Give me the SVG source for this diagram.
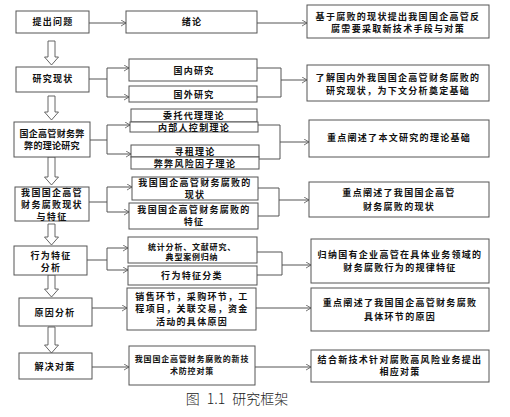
<svg xmlns="http://www.w3.org/2000/svg" width="510" height="417" viewBox="0 0 510 417">
<defs>
<marker id="ah" markerUnits="userSpaceOnUse" markerWidth="8" markerHeight="8" refX="5" refY="3" orient="auto">
<path d="M0,0 L5,3 L0,6" fill="none" stroke="#555" stroke-width="0.8"/>
</marker>
<style>
.box{fill:#fff;stroke:#555;stroke-width:1}
.t{font-family:"Noto Sans CJK SC","Noto Sans CJK TC",sans-serif;font-size:9px;font-weight:bold;fill:#111;text-anchor:middle;letter-spacing:1.3px}
.s{font-size:8px;letter-spacing:0.8px}
.c{fill:none;stroke:#555;stroke-width:1}
.a{fill:none;stroke:#555;stroke-width:1;marker-end:url(#ah)}
.h{fill:#fff;stroke:#555;stroke-width:0.9}
.cap{font-family:"Noto Sans CJK SC",sans-serif;font-size:14px;fill:#222;text-anchor:middle;font-weight:300;word-spacing:4px}
</style>
</defs>
<rect width="510" height="417" fill="#fff"/>
<g id="connectors">
<path class="h" d="M48,41 H55 V57 H58.5 L51.5,65 L44.5,57 H48 Z"/>
<path class="h" d="M48,96 H55 V112 H58.5 L51.5,120 L44.5,112 H48 Z"/>
<path class="h" d="M48,157 H55 V177 H58.5 L51.5,185 L44.5,177 H48 Z"/>
<path class="h" d="M48,224 H55 V237 H58.5 L51.5,245 L44.5,237 H48 Z"/>
<path class="h" d="M48,275 H55 V289 H58.5 L51.5,297 L44.5,289 H48 Z"/>
<path class="h" d="M48,327 H55 V345 H58.5 L51.5,353 L44.5,345 H48 Z"/>
<path class="a" d="M89,23 H126"/>
<path class="a" d="M257,23 H307"/>
<path class="c" d="M89,79 H107 M107,68 V97"/>
<path class="a" d="M107,68 H129"/>
<path class="a" d="M107,97 H129"/>
<path class="c" d="M257,68 H281 V97 H257"/>
<path class="a" d="M281,80 H307"/>
<path class="c" d="M90,140 H107 M107,125 V154"/>
<path class="a" d="M107,125 H130"/>
<path class="a" d="M107,154 H131"/>
<path class="c" d="M258,125 H280 V159 H259"/>
<path class="a" d="M280,142 H309"/>
<path class="c" d="M89,202 H107 M107,187 V212"/>
<path class="a" d="M107,187 H132"/>
<path class="a" d="M107,212 H129"/>
<path class="c" d="M258,188 H279 V216 H258"/>
<path class="a" d="M279,200 H309"/>
<path class="c" d="M87,260 H107 M107,248 V270"/>
<path class="a" d="M107,248 H128"/>
<path class="a" d="M107,270 H128"/>
<path class="c" d="M257,252 H282 V275 H257"/>
<path class="a" d="M282,265 H311"/>
<path class="a" d="M92,308 H127"/>
<path class="a" d="M256,308 H311"/>
<path class="a" d="M92,367 H129"/>
<path class="a" d="M255,367 H311"/>
</g>
<g id="n1"><rect class="box" x="16" y="11" width="73" height="22"/><text class="t" x="53" y="25">提出问题</text></g>
<g id="n2"><rect class="box" x="126" y="11" width="131" height="22"/><text class="t" x="192" y="25">绪论</text></g>
<g id="n3"><rect class="box" x="307" y="5" width="182" height="33"/><text class="t" x="398" y="20">基于腐败的现状提出我国国企高管反</text><text class="t" x="398" y="32">腐需要采取新技术手段与对策</text></g>
<g id="n4"><rect class="box" x="16" y="67" width="73" height="25"/><text class="t" x="53" y="82">研究现状</text></g>
<g id="n5"><rect class="box" x="129" y="59" width="128" height="22"/><text class="t" x="194" y="74">国内研究</text></g>
<g id="n6"><rect class="box" x="129" y="86" width="128" height="16"/><text class="t" x="194" y="98">国外研究</text></g>
<g id="n7"><rect class="box" x="307" y="65" width="182" height="36"/><text class="t" x="398" y="81">了解国内外我国国企高管财务腐败的</text><text class="t" x="398" y="94">研究现状，为下文分析奠定基础</text></g>
<g id="n8"><rect class="box" x="14" y="122" width="76" height="35"/><text class="t" x="52" y="137" style="letter-spacing:0.3px">国企高管财务弊</text><text class="t" x="52" y="149" style="letter-spacing:0.3px">弊的理论研究</text></g>
<g id="n9"><rect class="box" x="131" y="109" width="126" height="13"/><text class="t" x="194" y="119">委托代理理论</text></g>
<g id="n10"><rect class="box" x="130" y="122" width="128" height="10"/><text class="t" x="194" y="130.5">内部人控制理论</text></g>
<g id="n11"><rect class="box" x="131" y="145" width="128" height="12"/><text class="t" x="195" y="155">寻租理论</text></g>
<g id="n12"><rect class="box" x="131" y="157" width="128" height="12"/><text class="t" x="195" y="167">弊弊风险因子理论</text></g>
<g id="n13"><rect class="box" x="309" y="120" width="180" height="37"/><text class="t" x="399" y="141">重点阐述了本文研究的理论基础</text></g>
<g id="n14"><rect class="box" x="15" y="187" width="74" height="34"/><text class="t" x="52" y="196">我国国企高管</text><text class="t" x="52" y="208">财务腐败现状</text><text class="t" x="52" y="220">与特征</text></g>
<g id="n15"><rect class="box" x="132" y="177" width="126" height="23"/><text class="t" x="195" y="186">我国国企高管财务腐败的</text><text class="t" x="195" y="198">现状</text></g>
<g id="n16"><rect class="box" x="129" y="203" width="129" height="26"/><text class="t" x="194" y="213">我国国企高管财务腐败的</text><text class="t" x="194" y="225">特征</text></g>
<g id="n17"><rect class="box" x="309" y="182" width="180" height="35"/><text class="t" x="399" y="196">重点阐述了我国国企高管</text><text class="t" x="399" y="210">财务腐败的现状</text></g>
<g id="n18"><rect class="box" x="14" y="246" width="73" height="29"/><text class="t" x="51" y="258.5">行为特征</text><text class="t" x="51" y="271">分析</text></g>
<g id="n19"><rect class="box" x="128" y="237" width="129" height="26"/><text class="t s" x="192" y="250">统计分析、文献研究、</text><text class="t s" x="192" y="260">典型案例归纳</text></g>
<g id="n20"><rect class="box" x="128" y="266" width="129" height="19"/><text class="t" x="192" y="279">行为特征分类</text></g>
<g id="n21"><rect class="box" x="311" y="239" width="178" height="44"/><text class="t" x="400" y="258">归纳国有企业高管在具体业务领域的</text><text class="t" x="400" y="271">财务腐败行为的规律特征</text></g>
<g id="n22"><rect class="box" x="19" y="298" width="73" height="28"/><text class="t" x="55" y="316">原因分析</text></g>
<g id="n23"><rect class="box" x="127" y="288" width="129" height="42"/><text class="t" x="192" y="300">销售环节，采购环节，工</text><text class="t" x="192" y="312">程项目，关联交易，资金</text><text class="t" x="192" y="325">活动的具体原因</text></g>
<g id="n24"><rect class="box" x="311" y="288" width="178" height="43"/><text class="t" x="400" y="306">重点阐述了我国国企高管财务腐败</text><text class="t" x="400" y="320">具体环节的原因</text></g>
<g id="n25"><rect class="box" x="19" y="353" width="73" height="26"/><text class="t" x="55" y="370">解决对策</text></g>
<g id="n26"><rect class="box" x="129" y="346" width="126" height="39"/><text class="t s" x="192" y="362">我国国企高管财务腐败的新技</text><text class="t s" x="192" y="374">术防控对策</text></g>
<g id="n27"><rect class="box" x="311" y="350" width="178" height="32"/><text class="t" x="400" y="363">结合新技术针对腐败高风险业务提出</text><text class="t" x="400" y="375">相应对策</text></g>
<text class="cap" x="237" y="404">图 1.1 研究框架</text>
</svg>
